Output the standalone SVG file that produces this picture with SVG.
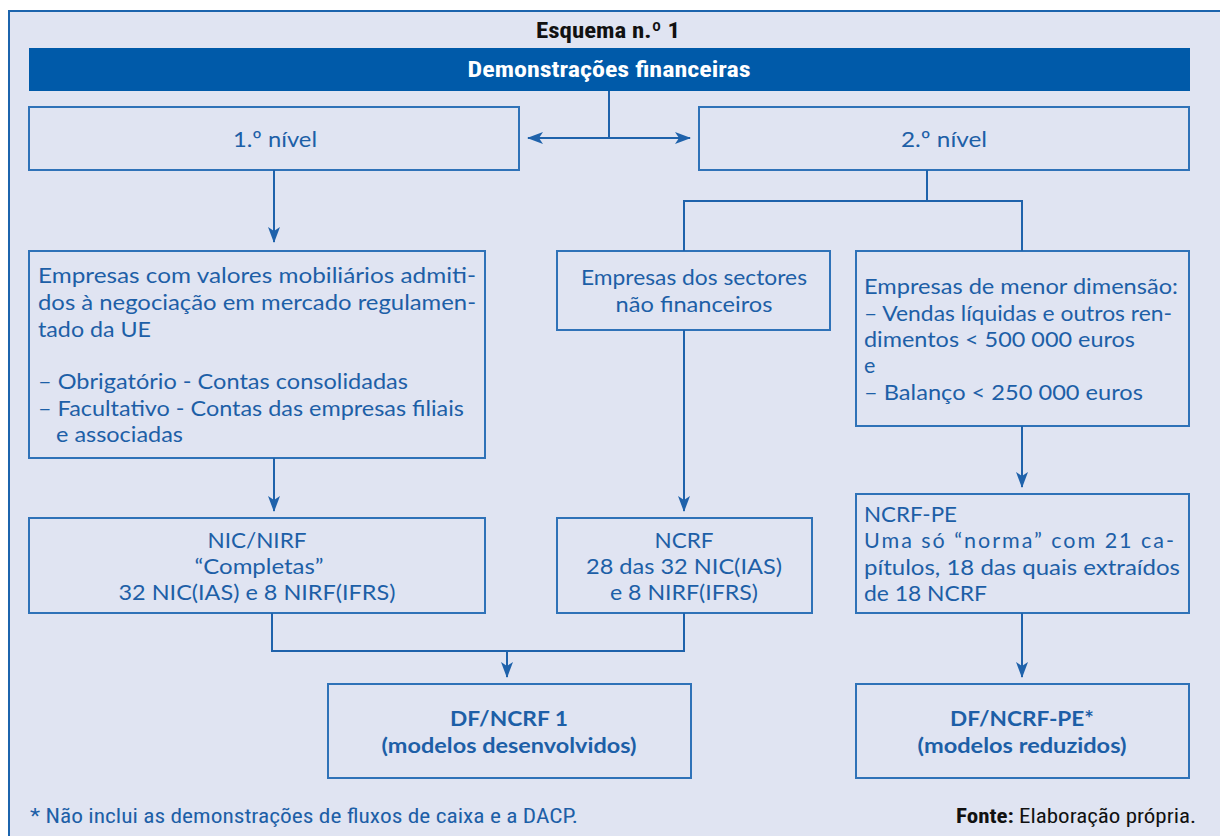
<svg xmlns="http://www.w3.org/2000/svg" width="1220" height="836" viewBox="0 0 1220 836">
<style>
.frame{fill:#e0e4f2;stroke:#1c64ad;stroke-width:2}
.box{fill:none;stroke:#2f72b8;stroke-width:2}
.t{font-family:Lato,"Open Sans","Liberation Sans",sans-serif;font-size:21.5px;fill:#1d5fa7}
.tb{font-family:Lato,"Open Sans","Liberation Sans",sans-serif;font-size:21.5px;font-weight:bold;fill:#1d5fa7}
.c{text-anchor:middle}
.cond{font-family:"Liberation Sans Narrow","Roboto Condensed","Liberation Sans",sans-serif}
.conn{fill:none;stroke:#1f62ab;stroke-width:2}
</style>
<defs>
<marker id="ah" markerUnits="userSpaceOnUse" markerWidth="16" markerHeight="12" refX="15" refY="6" orient="auto-start-reverse" viewBox="0 0 16 12">
<path d="M0,0 L16,6 L0,12 L4,6 z" fill="#1f62ab"/>
</marker>
</defs>
<rect x="0" y="0" width="1220" height="836" fill="#ffffff"/>
<rect class="frame" x="9" y="11" width="1230" height="840"/>
<text class="cond" x="608" y="38" text-anchor="middle" font-size="22" font-weight="bold" fill="#111111" textLength="144" lengthAdjust="spacingAndGlyphs">Esquema n.º 1</text>
<g id="header">
<rect x="29" y="48" width="1161" height="43" fill="#005aa9"/>
<text class="cond" x="609" y="77" text-anchor="middle" font-size="22" font-weight="bold" fill="#ffffff" textLength="283" lengthAdjust="spacingAndGlyphs">Demonstrações financeiras</text>
</g>
<g id="nivel1">
<rect class="box" x="29" y="107" width="490" height="63"/>
<text class="t c" x="275" y="147" textLength="84" lengthAdjust="spacingAndGlyphs">1.º nível</text>
</g>
<g id="nivel2">
<rect class="box" x="699" y="107" width="490" height="63"/>
<text class="t c" x="944" y="147" textLength="86" lengthAdjust="spacingAndGlyphs">2.º nível</text>
</g>
<g id="valores">
<rect class="box" x="29" y="251" width="456" height="207"/>
<text class="t" x="38" y="283" textLength="438" lengthAdjust="spacingAndGlyphs">Empresas com valores mobiliários admiti-</text>
<text class="t" x="38" y="310" textLength="438" lengthAdjust="spacingAndGlyphs">dos à negociação em mercado regulamen-</text>
<text class="t" x="38" y="337" textLength="113" lengthAdjust="spacingAndGlyphs">tado da UE</text>
<text class="t" x="38" y="389" textLength="370" lengthAdjust="spacingAndGlyphs">– Obrigatório - Contas consolidadas</text>
<text class="t" x="38" y="416" textLength="426" lengthAdjust="spacingAndGlyphs">– Facultativo - Contas das empresas filiais</text>
<text class="t" x="56" y="442" textLength="127" lengthAdjust="spacingAndGlyphs">e associadas</text>
</g>
<g id="sectores">
<rect class="box" x="557" y="251" width="273" height="79"/>
<text class="t c" x="694" y="285" textLength="226" lengthAdjust="spacingAndGlyphs">Empresas dos sectores</text>
<text class="t c" x="694" y="312" textLength="157" lengthAdjust="spacingAndGlyphs">não financeiros</text>
</g>
<g id="menor">
<rect class="box" x="856" y="251" width="333" height="175"/>
<text class="t" x="864" y="294" textLength="314" lengthAdjust="spacingAndGlyphs">Empresas de menor dimensão:</text>
<text class="t" x="864" y="321" textLength="308" lengthAdjust="spacingAndGlyphs">– Vendas líquidas e outros ren-</text>
<text class="t" x="864" y="347" textLength="271" lengthAdjust="spacingAndGlyphs">dimentos &lt; 500 000 euros</text>
<text class="t" x="864" y="373">e</text>
<text class="t" x="864" y="400" textLength="279" lengthAdjust="spacingAndGlyphs">– Balanço &lt; 250 000 euros</text>
</g>
<g id="nicnirf">
<rect class="box" x="29" y="518" width="456" height="95"/>
<text class="t c" x="257" y="548" textLength="99" lengthAdjust="spacingAndGlyphs">NIC/NIRF</text>
<text class="t c" x="259" y="574" textLength="129" lengthAdjust="spacingAndGlyphs">“Completas”</text>
<text class="t c" x="257" y="600" textLength="277" lengthAdjust="spacingAndGlyphs">32 NIC(IAS) e 8 NIRF(IFRS)</text>
</g>
<g id="ncrf">
<rect class="box" x="557" y="518" width="255" height="95"/>
<text class="t c" x="684" y="548" textLength="59" lengthAdjust="spacingAndGlyphs">NCRF</text>
<text class="t c" x="684" y="574" textLength="196" lengthAdjust="spacingAndGlyphs">28 das 32 NIC(IAS)</text>
<text class="t c" x="684" y="600" textLength="148" lengthAdjust="spacingAndGlyphs">e 8 NIRF(IFRS)</text>
</g>
<g id="ncrfpe">
<rect class="box" x="856" y="494" width="333" height="119"/>
<text class="t" x="864" y="522" textLength="93" lengthAdjust="spacingAndGlyphs">NCRF-PE</text>
<text class="t" x="864" y="548" textLength="310" lengthAdjust="spacing">Uma só “norma” com 21 ca-</text>
<text class="t" x="864" y="575" textLength="316" lengthAdjust="spacingAndGlyphs">pítulos, 18 das quais extraídos</text>
<text class="t" x="864" y="601" textLength="123" lengthAdjust="spacingAndGlyphs">de 18 NCRF</text>
</g>
<g id="dfncrf1">
<rect class="box" x="328" y="684" width="363" height="94"/>
<text class="tb c" x="509" y="726" textLength="118" lengthAdjust="spacingAndGlyphs">DF/NCRF 1</text>
<text class="tb c" x="509" y="753" textLength="255" lengthAdjust="spacingAndGlyphs">(modelos desenvolvidos)</text>
</g>
<g id="dfncrfpe">
<rect class="box" x="856" y="684" width="333" height="94"/>
<text class="tb c" x="1022" y="726" textLength="144" lengthAdjust="spacingAndGlyphs">DF/NCRF-PE*</text>
<text class="tb c" x="1022" y="753" textLength="209" lengthAdjust="spacingAndGlyphs">(modelos reduzidos)</text>
</g>
<g id="connectors">
<path class="conn" d="M609,91 V138"/>
<path class="conn" d="M528,138 H690" marker-start="url(#ah)" marker-end="url(#ah)"/>
<path class="conn" d="M274,170 V242" marker-end="url(#ah)"/>
<path class="conn" d="M927,170 V201 M684,251 V201 H1022 V251"/>
<path class="conn" d="M274,458 V511" marker-end="url(#ah)"/>
<path class="conn" d="M684,330 V511" marker-end="url(#ah)"/>
<path class="conn" d="M1022,426 V487" marker-end="url(#ah)"/>
<path class="conn" d="M272,613 V651 H684 V613"/>
<path class="conn" d="M507,651 V677" marker-end="url(#ah)"/>
<path class="conn" d="M1022,613 V677" marker-end="url(#ah)"/>
</g>
<text class="cond" x="30" y="823" font-size="20" fill="#1d5fa7" textLength="548" lengthAdjust="spacingAndGlyphs">* Não inclui as demonstrações de fluxos de caixa e a DACP.</text>
<text class="cond" x="1196" y="823" font-size="20" text-anchor="end" fill="#111111" textLength="240" lengthAdjust="spacingAndGlyphs"><tspan font-weight="bold">Fonte:</tspan> Elaboração própria.</text>
</svg>
